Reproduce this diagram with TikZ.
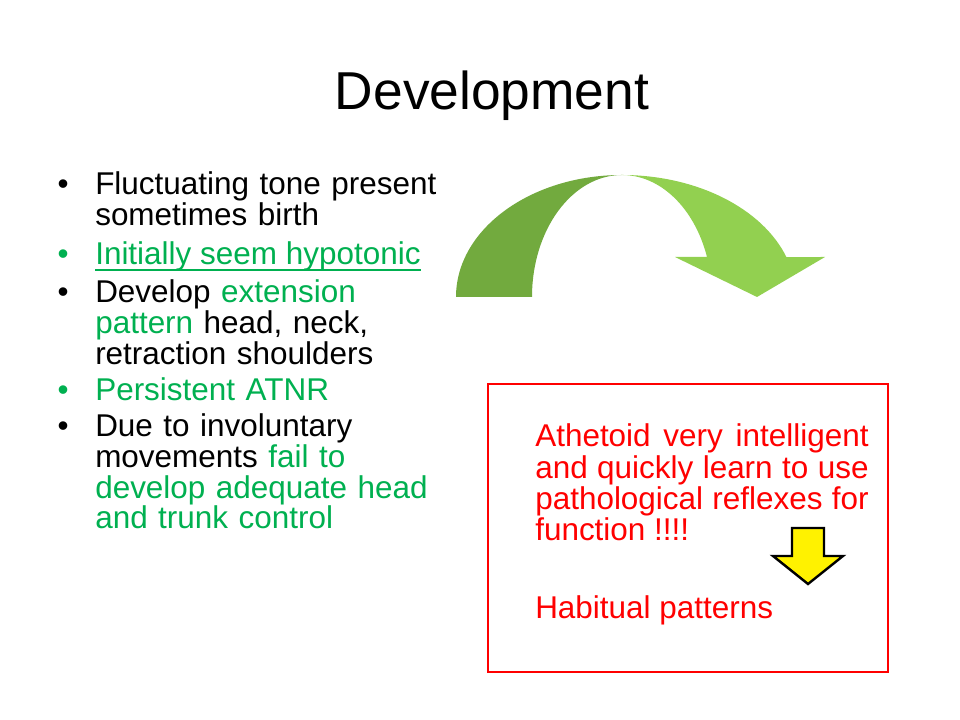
\documentclass[tikz,border=0pt]{standalone}
\usepackage{fontspec}
\setmainfont{Liberation Sans}
\usetikzlibrary{positioning}

\definecolor{txtgreen}{RGB}{0,176,80}
\definecolor{arrowdark}{RGB}{114,170,62}
\definecolor{arrowlight}{RGB}{146,208,80}
\hyphenpenalty=10000
\exhyphenpenalty=10000

\begin{document}
\begin{tikzpicture}[x=0.75pt, y=0.75pt, inner sep=0pt,
    item/.style={anchor=base west, text width=270pt, align=left, font=\fontsize{23.6}{23}\selectfont},
    dot/.style={font=\fontsize{23.6}{23}\selectfont},
    note/.style={anchor=base west, text width=250pt, align=justify, text=red, font=\fontsize{23.6}{23.5}\selectfont}]
    \useasboundingbox (0,0) rectangle (960,720);

    % Title
    \node[anchor=base, font=\fontsize{40}{48}\selectfont] (title) at (492,610) {Development};

    % Left bullets
    \node[item] (fluct) at (95,525) {Fluctuating tone present sometimes birth};
    \node[anchor=base west, text=txtgreen, font=\fontsize{23.6}{23}\selectfont] (init) at (95,455) {Initially seem hypotonic};
    \node[item] (devel) at (95,417) {Develop {\color{txtgreen}extension pattern} head, neck, retraction shoulders};
    \node[item, text=txtgreen] (atnr) at (95,319) {Persistent ATNR};
    \node[item] (invol) at (95,283) {Due to involuntary movements {\color{txtgreen}fail to develop adequate head and trunk control}};

    \node[dot, base left=19.5pt of fluct.base west] (d1) {•};
    \node[dot, base left=19.5pt of init.base west, text=txtgreen] (d2) {•};
    \node[dot, base left=19.5pt of devel.base west] (d3) {•};
    \node[dot, base left=19.5pt of atnr.base west, text=txtgreen] (d4) {•};
    \node[dot, base left=19.5pt of invol.base west] (d5) {•};

    \draw[txtgreen, line width=1.1pt] ([yshift=-3.75pt]init.base west) -- ([yshift=-3.75pt]init.base east);

    % Curved arrow
    \fill[arrowdark] (456,423) arc[start angle=180, end angle=90, x radius=166, y radius=122]
        arc[start angle=90, end angle=180, x radius=90, y radius=122] -- cycle;
    \fill[arrowlight] (622,545) arc[start angle=90, end angle=19.1, x radius=174, y radius=122]
        -- (825,463) -- (757,423) -- (675,463) -- (707,463)
        arc[start angle=19.14, end angle=90, x radius=90, y radius=122] -- cycle;

    % Red box
    \node[draw=red, line width=0.8pt, minimum width=300pt, minimum height=216pt] (box) at (688,192) {};
    \node[note] (athe) at (535,273.3) {Athetoid very intelligent and quickly learn to use pathological reflexes for function !!!!};
    \node[note] (habit) at (535,101.7) {Habitual patterns};

    % Yellow arrow
    \draw[fill=yellow, line width=1.8pt] (792,192) -- (824,192) -- (824,164) -- (843,164)
        -- (808,136) -- (773,164) -- (792,164) -- cycle;
\end{tikzpicture}
\end{document}
